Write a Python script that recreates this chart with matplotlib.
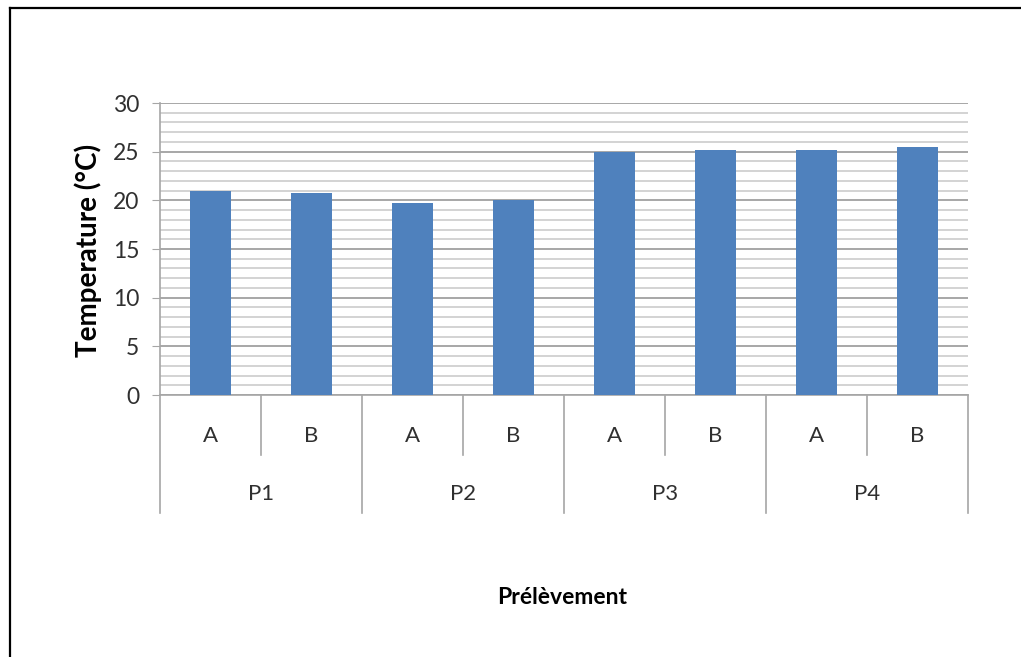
import matplotlib
matplotlib.use("Agg")
import matplotlib.pyplot as plt
from matplotlib.lines import Line2D
from matplotlib.ticker import MultipleLocator
import matplotlib.transforms as mtransforms

plt.rcParams['font.family'] = ['Lato', 'DejaVu Sans']

# Sampling points and their sub-samples
groups = ["P1", "P2", "P3", "P4"]
subs = ["A", "B"]
temperature = [21.0, 20.8, 19.7, 20.0, 25.0, 25.2, 25.2, 25.5]

W, H = 1021, 657
fig = plt.figure(figsize=(W / 100, H / 100), dpi=100)
ax = fig.add_axes([160 / W, 1 - 395 / H, (968 - 160) / W, (395 - 103) / H])

n = len(temperature)
x = list(range(n))
ax.bar(x, temperature, width=0.4, color="#4f81bd", zorder=3)

ax.set_xlim(-0.5, n - 0.5)
ax.set_ylim(0, 30)
ax.yaxis.set_major_locator(MultipleLocator(5))
ax.yaxis.set_minor_locator(MultipleLocator(1))
ax.grid(axis="y", which="major", color="#a0a0a0", lw=1.3, zorder=0)
ax.grid(axis="y", which="minor", color="#c8c8c8", lw=1.1, zorder=0)

for s in ["top", "right"]:
    ax.spines[s].set_visible(False)
ax.spines["left"].set_color("#a6a6a6")
ax.spines["bottom"].set_color("#a6a6a6")
ax.spines["left"].set_linewidth(1.2)
ax.spines["bottom"].set_linewidth(1.2)

ax.tick_params(axis="y", which="major", length=6, color="#a6a6a6",
               labelsize=16.5, labelcolor="#303030", pad=9)
ax.tick_params(axis="y", which="minor", length=0)
ax.set_xticks([])

# Two-level category axis
trans = mtransforms.blended_transform_factory(ax.transData, ax.transAxes)
inner_depth = (395 - 455) / 292
outer_depth = (395 - 513) / 292
for i in range(len(groups)):
    ax.add_line(Line2D([2 * i + 0.5] * 2, [0, inner_depth], transform=trans,
                       color="#a6a6a6", lw=1.2, clip_on=False))
for i in range(len(groups) + 1):
    ax.add_line(Line2D([2 * i - 0.5] * 2, [0, outer_depth], transform=trans,
                       color="#a6a6a6", lw=1.2, clip_on=False))
for i in range(n):
    ax.text(i, (395 - 436) / 292, subs[i % 2], transform=trans,
            ha="center", va="center", fontsize=16, color="#303030")
for i, g in enumerate(groups):
    ax.text(2 * i + 0.5, (395 - 494) / 292, g, transform=trans,
            ha="center", va="center", fontsize=16, color="#303030")

fig.text(88 / W, 1 - 250 / H, "Temperature (°C)", rotation=90,
         ha="center", va="center", fontsize=20, fontweight="bold")
fig.text(562 / W, 1 - 597 / H, "Prélèvement", ha="center", va="center",
         fontsize=16.5, fontweight="bold")

# Frame lines on the left and top edges
fig.add_artist(Line2D([10 / W, 10 / W], [0, 1 - 8 / H], transform=fig.transFigure,
                      color="black", lw=1.6))
fig.add_artist(Line2D([10 / W, 1], [1 - 8 / H, 1 - 8 / H], transform=fig.transFigure,
                      color="black", lw=1.6))

fig.savefig("out.png", dpi=100, facecolor="white")
